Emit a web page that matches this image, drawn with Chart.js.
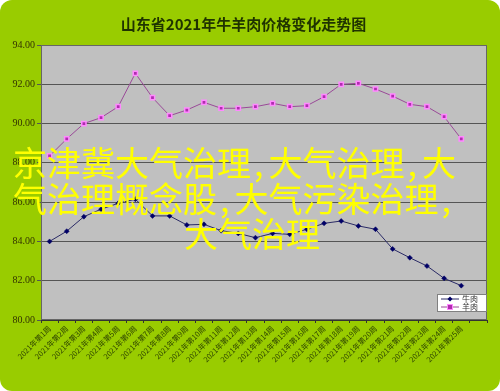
<!DOCTYPE html>
<html>
<head>
<meta charset="utf-8">
<script src="https://cdn.jsdelivr.net/npm/chart.js@4"></script>
<style>
    body { margin: 0; background: #ffffff; }
    .box {
        position: relative;
        width: 500px;
        height: 391px;
        background: #99cc00;
        border-radius: 12px;
        overflow: hidden;
    }
    canvas { position: absolute; left: 0; top: 0; }
    .wm {
        position: absolute;
        color: #ffff00;
        font-family: "Noto Sans CJK SC", sans-serif;
        font-size: 34px;
        line-height: 35px;
        white-space: nowrap;
    }
    .wm span { margin-left: 3px; margin-right: 5px; }
</style>
</head>
<body>
<div class="box">
    <canvas id="priceChart" width="500" height="391"></canvas>
    <div class="wm" style="left:13px; top:144px;">京津冀大气治理<span>,</span>大气治理<span>,</span>大</div>
    <div class="wm" style="left:13px; top:180px;">气治理概念股<span>,</span>大气污染治理<span>,</span></div>
    <div class="wm" style="left:184px; top:215px;">大气治理</div>
</div>
<script>
// 周次
const weeks = ['2021年第1周', '2021年第2周', '2021年第3周', '2021年第4周', '2021年第5周',
    '2021年第6周', '2021年第7周', '2021年第8周', '2021年第9周', '2021年第10周',
    '2021年第11周', '2021年第12周', '2021年第13周', '2021年第14周', '2021年第15周',
    '2021年第16周', '2021年第17周', '2021年第18周', '2021年第19周', '2021年第20周',
    '2021年第21周', '2021年第22周', '2021年第23周', '2021年第24周', '2021年第25周'];

// 牛肉价格
const beef = [84.00, 84.52, 85.26, 85.64, 85.94, 86.15, 85.30, 85.30, 84.84, 84.87,
    84.55, 84.41, 84.19, 84.41, 84.36, 84.62, 84.92, 85.04, 84.79, 84.62,
    83.62, 83.17, 82.75, 82.12, 81.75];

// 羊肉价格
const mutton = [88.35, 89.22, 90.00, 90.30, 90.86, 92.56, 91.32, 90.40, 90.69, 91.08,
    90.78, 90.78, 90.86, 91.03, 90.86, 90.91, 91.37, 92.00, 92.05, 91.76,
    91.40, 90.98, 90.86, 90.35, 89.22];

// y轴刻度
const yMin = 80;
const yMax = 94;
const yStep = 2;

// 绘图区背景和边框
const plotBg = {
    id: 'plotBg',
    beforeDraw(chart) {
        const { ctx, chartArea: a } = chart;
        ctx.save();
        ctx.fillStyle = '#c0c0c0';
        ctx.fillRect(a.left, a.top, a.right - a.left, a.bottom - a.top);
        ctx.restore();
    },
    afterDatasetsDraw(chart) {
        const { ctx, chartArea: a } = chart;
        ctx.save();
        ctx.strokeStyle = '#666666';
        ctx.lineWidth = 1;
        ctx.strokeRect(a.left + 0.5, a.top + 0.5, a.right - a.left - 1, a.bottom - a.top - 1);
        ctx.restore();
    }
};

// 图例（右下角）
const cornerLegend = {
    id: 'cornerLegend',
    afterDraw(chart) {
        const { ctx, chartArea: a } = chart;
        const w = 50, h = 18;
        const x = a.right - w, y = a.bottom - 26;
        ctx.save();
        ctx.fillStyle = '#ffffff';
        ctx.fillRect(x, y, w, h);
        ctx.strokeStyle = '#808080';
        ctx.lineWidth = 1;
        ctx.strokeRect(x + 0.5, y + 0.5, w - 1, h - 1);
        chart.data.datasets.forEach((ds, i) => {
            const cy = y + 5 + i * 8;
            ctx.strokeStyle = ds.borderColor;
            ctx.lineWidth = 1;
            ctx.beginPath();
            ctx.moveTo(x + 4, cy);
            ctx.lineTo(x + 22, cy);
            ctx.stroke();
            ctx.fillStyle = ds.pointBackgroundColor;
            ctx.strokeStyle = ds.pointBorderColor;
            if (i === 0) {
                ctx.beginPath();
                ctx.moveTo(x + 13, cy - 2.5);
                ctx.lineTo(x + 15.5, cy);
                ctx.lineTo(x + 13, cy + 2.5);
                ctx.lineTo(x + 10.5, cy);
                ctx.closePath();
                ctx.fill();
            } else {
                ctx.fillRect(x + 10.5, cy - 2.5, 5, 5);
                ctx.strokeRect(x + 10.5, cy - 2.5, 5, 5);
            }
            ctx.fillStyle = '#333333';
            ctx.font = '8px "Noto Sans CJK SC"';
            ctx.textBaseline = 'middle';
            ctx.textAlign = 'left';
            ctx.fillText(ds.label, x + 25, cy);
        });
        ctx.restore();
    }
};

const ctx = document.getElementById('priceChart').getContext('2d');
const priceChart = new Chart(ctx, {
    type: 'line',
    data: {
        labels: [...weeks, ''],
        datasets: [{
            label: '牛肉',
            data: beef,
            borderColor: '#2a2a66',
            borderWidth: 1,
            pointStyle: 'rectRot',
            pointRadius: 2.5,
            pointBackgroundColor: '#000066',
            pointBorderColor: '#000066',
            pointBorderWidth: 0.5,
            tension: 0
        }, {
            label: '羊肉',
            data: mutton,
            borderColor: '#9a4a98',
            borderWidth: 1,
            pointStyle: 'rect',
            pointRadius: 3,
            pointBackgroundColor: '#b02cb0',
            pointBorderColor: '#ff88ff',
            pointBorderWidth: 1.5,
            tension: 0
        }]
    },
    options: {
        responsive: false,
        animation: false,
        layout: { padding: { left: 0, right: 13, top: 0, bottom: 0 } },
        plugins: {
            legend: { display: false },
            tooltip: { enabled: false },
            title: {
                display: true,
                text: '山东省2021年牛羊肉价格变化走势图',
                color: '#1f3300',
                font: { family: '"Noto Sans CJK SC"', size: 15, weight: 'bold', lineHeight: 1.2 },
                padding: { top: 15, bottom: 12 }
            }
        },
        scales: {
            x: {
                offset: true,
                grid: {
                    display: true,
                    offset: true,
                    drawOnChartArea: false,
                    tickLength: 3,
                    color: '#333333'
                },
                border: { display: true, color: '#333333' },
                ticks: {
                    autoSkip: false,
                    minRotation: 45,
                    maxRotation: 45,
                    padding: 1,
                    color: '#2e4400',
                    font: { family: '"Noto Sans CJK SC"', size: 7.5 }
                },
                afterFit(scale) { scale.height = 71; }
            },
            y: {
                min: yMin,
                max: yMax,
                grid: {
                    color: '#555555',
                    lineWidth: 1,
                    tickLength: 4
                },
                border: { display: true, color: '#333333' },
                ticks: {
                    stepSize: yStep,
                    padding: 2,
                    color: '#333300',
                    font: { family: '"Liberation Serif"', size: 10 },
                    callback: v => v.toFixed(2)
                },
                afterFit(scale) { scale.width = 41; }
            }
        }
    },
    plugins: [plotBg, cornerLegend]
});
</script>
</body>
</html>
